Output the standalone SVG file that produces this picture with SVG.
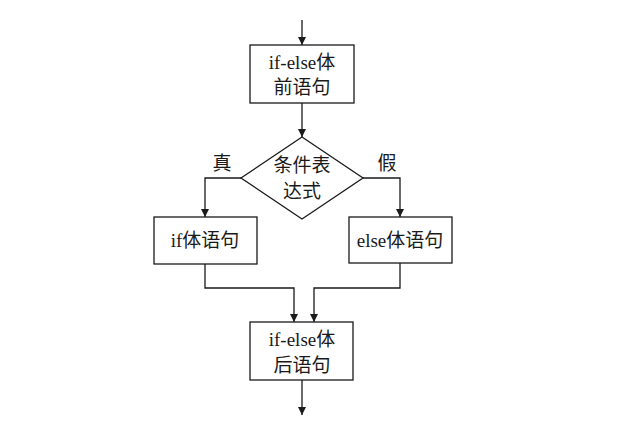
<svg xmlns="http://www.w3.org/2000/svg" width="640" height="427" viewBox="0 0 640 427">
<style>
.b{fill:#fff;stroke:#1a1a1a;stroke-width:1.3}
.t{font-family:"Liberation Serif","Noto Sans CJK SC",serif;font-size:19px;fill:#1a1a1a;text-anchor:middle}
.c{fill:none;stroke:#1a1a1a;stroke-width:1.3;marker-end:url(#a)}
</style>
<defs><marker id="a" viewBox="0 0 8 16" refX="8" refY="8" markerWidth="8" markerHeight="16" markerUnits="userSpaceOnUse" orient="auto"><path d="M0,4 L8,8 L0,12 Z" fill="#1a1a1a" transform="rotate(0)"/></marker></defs>
<rect width="640" height="427" fill="#fff"/>
<g id="connectors">
<path class="c" d="M302,20 V45"/>
<path class="c" d="M302,103 V137"/>
<path class="c" d="M241,178 H205 V217"/>
<path class="c" d="M363,178 H400 V217"/>
<path class="c" d="M205,264 V288 H294 V322"/>
<path class="c" d="M400,263 V288 H314 V322"/>
<path class="c" d="M302,380 V415"/>
</g>
<g id="start"><rect class="b" x="250" y="45" width="104" height="58"/><text class="t" x="302" y="69">if-else体</text><text class="t" x="302" y="94">前语句</text></g>
<g id="cond"><polygon class="b" points="302,137 363,178 302,219 241,178"/><text class="t" x="302" y="172">条件表</text><text class="t" x="302" y="198">达式</text></g>
<g id="ifbody"><rect class="b" x="154" y="217" width="103" height="47"/><text class="t" x="205" y="247">if体语句</text></g>
<g id="elsebody"><rect class="b" x="349" y="217" width="103" height="46"/><text class="t" x="400" y="247">else体语句</text></g>
<g id="end"><rect class="b" x="250" y="322" width="103" height="58"/><text class="t" x="302" y="346">if-else体</text><text class="t" x="302" y="372">后语句</text></g>
<g id="labels"><text class="t" x="222" y="170">真</text><text class="t" x="387" y="170">假</text></g>
</svg>
